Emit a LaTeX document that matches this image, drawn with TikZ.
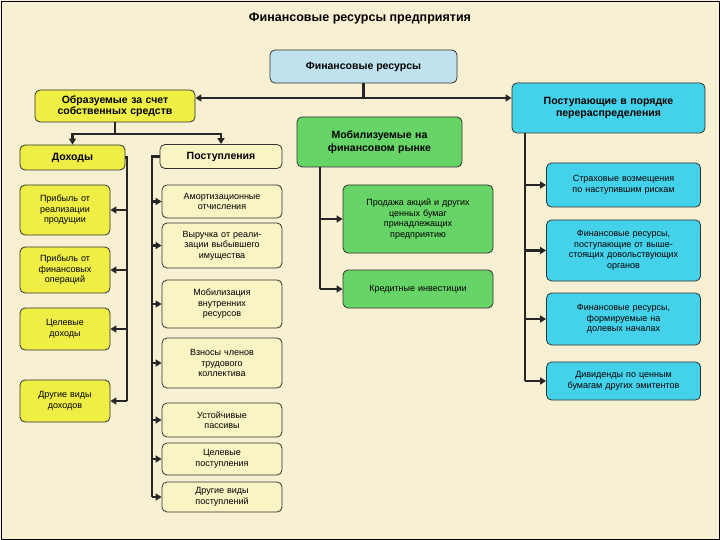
\documentclass[tikz,border=0pt]{standalone}
\usepackage{fontspec}
\setmainfont{Liberation Sans}
\usetikzlibrary{arrows.meta}
\definecolor{bg}{HTML}{F8F0D2}
\definecolor{lb}{HTML}{C0E2EE}
\definecolor{yl}{HTML}{EEEE44}
\definecolor{ly}{HTML}{F8F4C4}
\definecolor{gr}{HTML}{66D466}
\definecolor{cy}{HTML}{44D2EA}
\begin{document}
\begin{tikzpicture}[x=1pt,y=-1pt,
 bx/.style={draw=black!80,line width=0.8pt,rounded corners=5pt,align=center,inner sep=1pt,font=\fontsize{9}{10.5}\selectfont},
 big/.style={bx,font=\bfseries\fontsize{10.5}{12.5}\selectfont},
 ln/.style={line width=2.2pt,black!85},
 ar/.style={ln,-{Triangle[length=6pt,width=7pt]}},
 yb/.style={bx,fill=yl,minimum width=90,text width=88},
 pb/.style={bx,fill=ly,minimum width=120,text width=118},
 gb/.style={bx,fill=gr,minimum width=150,text width=148},
 cb/.style={bx,fill=cy,minimum width=153,text width=152}]
\fill[bg] (0,0) rectangle (720,540);
\draw[line width=0.8pt] (1,1) rectangle (719,539);
\node[font=\bfseries\fontsize{12.5}{14}\selectfont] (title) at (360,18) {Финансовые ресурсы предприятия};
\node[big,fill=lb,minimum width=187,minimum height=33] (fr) at (363.5,66.5) {Финансовые ресурсы};
\node[big,fill=yl,minimum width=160,minimum height=32,text width=158] (own) at (115,106) {Образуемые за счет\\[-2pt]собственных средств};
\node[big,fill=cy,minimum width=193,minimum height=50,text width=189] (red) at (608.5,108) {Поступающие в порядке\\перераспределения};
\node[big,fill=gr,minimum width=165,minimum height=50,text width=161] (mob) at (379.5,142) {Мобилизуемые на\\финансовом рынке};
\node[big,fill=yl,minimum width=105,minimum height=25] (doh) at (72.5,157.5) {Доходы};
\node[big,fill=ly,minimum width=122,minimum height=24] (pos) at (221,156.5) {Поступления};
\node[yb,minimum height=50] (d1) at (65,210) {Прибыль от\\реализации\\продущии};
\node[yb,minimum height=46] (d2) at (65,270) {Прибыль от\\финансовых\\операций};
\node[yb,minimum height=42] (d3) at (65,329) {Целевые\\доходы};
\node[yb,minimum height=42] (d4) at (65,401) {Другие виды\\доходов};
\node[pb,minimum height=33] (p1) at (222,201.5) {Амортизационные\\отчисления};
\node[pb,minimum height=45] (p2) at (222,245.5) {Выручка от реали-\\зации выбывшего\\имущества};
\node[pb,minimum height=48] (p3) at (222,304) {Мобилизация\\внутренних\\ресурсов};
\node[pb,minimum height=50] (p4) at (222,363) {Взносы членов\\трудового\\коллектива};
\node[pb,minimum height=34] (p5) at (222,420) {Устойчивые\\пассивы};
\node[pb,minimum height=32] (p6) at (222,459) {Целевые\\поступления};
\node[pb,minimum height=30] (p7) at (222,497) {Другие виды\\поступлений};
\node[gb,minimum height=68] (g1) at (418,219) {Продажа акций и других\\ценных бумаг\\принадлежащих\\предприятию};
\node[gb,minimum height=38] (g2) at (418,289) {Кредитные инвестиции};
\node[cb,minimum height=44] (c1) at (623.5,185) {Страховые возмещения\\по наступившим рискам};
\node[cb,minimum height=61] (c2) at (623.5,250.5) {Финансовые ресурсы,\\поступающие от выше-\\стоящих довольствующих\\органов};
\node[cb,minimum height=52] (c3) at (623.5,319) {Финансовые ресурсы,\\формируемые на\\долевых началах};
\node[cb,minimum height=38] (c4) at (623.5,381) {Дивиденды по ценным\\бумагам других эмитентов};
% top connectors
\coordinate (j) at (363.5,98);
\draw[ln] (fr.south) -- (j);
\draw[ar] (j) -- (own.east |- j);
\draw[ar] (j) -- (red.west |- j);
\coordinate (k) at (115,134);
\draw[ln] (own.south) -- (k);
\draw[ar] (k) -| (doh.north);
\draw[ar] (k) -| (pos.north);
% Доходы column
\coordinate (dv) at (127,157.5);
\coordinate (dvb) at (127,401);
\draw[ln] (doh.east) -- (dv) -- (dvb);
\foreach \n in {d1,d2,d3,d4} \draw[ar] (dv |- \n.east) -- (\n.east);
% Поступления column
\coordinate (pv) at (152,156.5);
\coordinate (pvb) at (152,497);
\draw[ln] (pos.west) -- (pv) -- (pvb);
\foreach \n in {p1,p2,p3,p4,p5,p6,p7} \draw[ar] (pv |- \n.west) -- (\n.west);
% green column
\coordinate (gv) at (320,167);
\coordinate (gvb) at (320,289);
\draw[ln] (gv) -- (gvb);
\foreach \n in {g1,g2} \draw[ar] (gv |- \n.west) -- (\n.west);
% cyan column
\coordinate (cv) at (525,133);
\coordinate (cvb) at (525,381);
\draw[ln] (cv) -- (cvb);
\foreach \n in {c1,c2,c3,c4} \draw[ar] (cv |- \n.west) -- (\n.west);
\end{tikzpicture}
\end{document}
